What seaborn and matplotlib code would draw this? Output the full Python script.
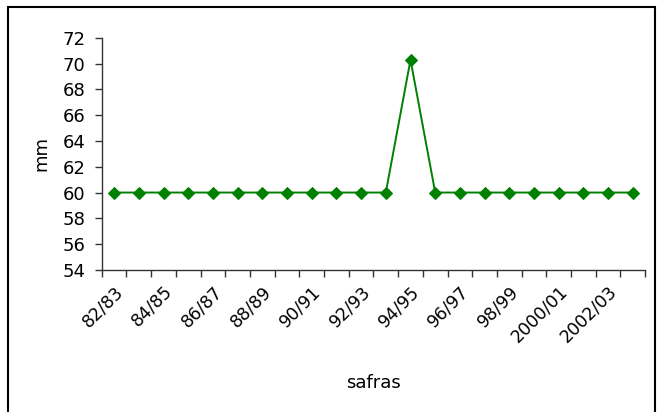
import pandas as pd
import seaborn as sns
import matplotlib.pyplot as plt
from matplotlib.patches import Rectangle

# ---- Data ----
safras = ["82/83", "83/84", "84/85", "85/86", "86/87", "87/88", "88/89", "89/90",
          "90/91", "91/92", "92/93", "93/94", "94/95", "95/96", "96/97", "97/98",
          "98/99", "99/2000", "2000/01", "2001/02", "2002/03", "2003/04"]
mm = [60, 60, 60, 60, 60, 60, 60, 60, 60, 60, 60, 60, 70.3,
      60, 60, 60, 60, 60, 60, 60, 60, 60]

df = pd.DataFrame({"safra": safras, "mm": mm})
df["pos"] = range(len(df))

sns.set_style("white")
plt.rcParams["font.family"] = ["DejaVu Sans"]
plt.rcParams["text.color"] = "black"
plt.rcParams["axes.labelcolor"] = "black"
plt.rcParams["xtick.color"] = "black"
plt.rcParams["ytick.color"] = "black"

fig = plt.figure(figsize=(6.61, 4.12), dpi=100)
ax = fig.add_axes([0.154, 0.345, 0.822, 0.563])

sns.lineplot(data=df, x="pos", y="mm", ax=ax, color="#008000",
             marker="D", markersize=6, markeredgecolor="#008000", lw=1.4)

# ---- Axes styling (Excel-like) ----
ax.set_ylim(54, 72)
ax.set_yticks(range(54, 73, 2))
ax.set_xlim(-0.5, len(df) - 0.5)

# ticks between categories, labels on every other category
ax.set_xticks([i - 0.5 for i in range(len(df) + 1)])
ax.set_xticklabels([])
ax.set_xticks(df["pos"][::2], minor=True)
ax.set_xticklabels(df["safra"][::2], minor=True, rotation=45, ha="right",
                   rotation_mode="anchor", fontsize=12.5)
ax.tick_params(axis="x", which="minor", bottom=True, length=0, pad=9)
ax.tick_params(axis="x", which="major", bottom=True, direction="out",
               length=5, width=1, color="#333333")
ax.tick_params(axis="y", left=True, direction="out", length=5, width=1,
               color="#333333", labelsize=13, pad=7)

for s in ["top", "right"]:
    ax.spines[s].set_visible(False)
for s in ["left", "bottom"]:
    ax.spines[s].set_color("#333333")
    ax.spines[s].set_linewidth(1)

ax.set_xlabel("safras", fontsize=13)
ax.xaxis.set_label_coords(0.5, -0.45)
ax.set_ylabel("mm", fontsize=13)
ax.yaxis.set_label_coords(-0.095, 0.5)

# ---- Outer border ----
fig.patches.append(Rectangle((8 / 661, -0.02), (655 - 8) / 661, 1 - 7 / 412 + 0.02,
                             transform=fig.transFigure, fill=False,
                             edgecolor="black", lw=1.5))

fig.savefig("out.png", dpi=100)
